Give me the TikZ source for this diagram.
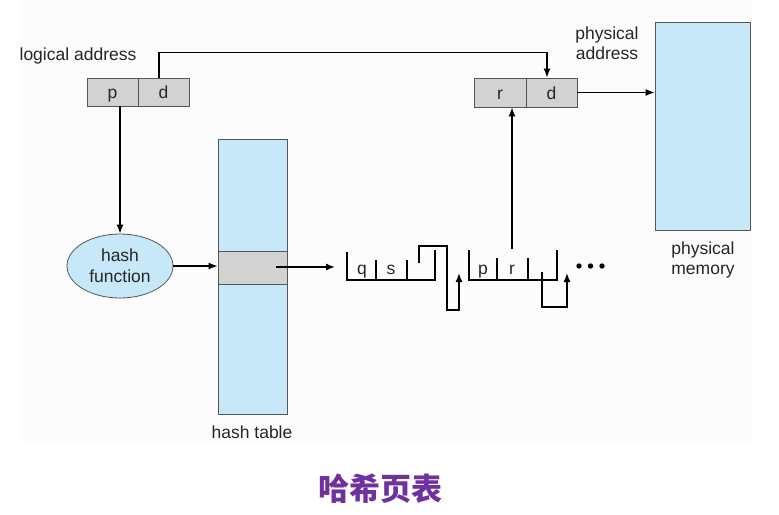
\documentclass[tikz,border=0pt]{standalone}
\usepackage{fontspec}
\setmainfont{Liberation Sans}
\newfontfamily\cjk{Noto Sans CJK SC}
\usetikzlibrary{arrows.meta,shapes.geometric}
\definecolor{lblue}{RGB}{198,232,248}
\definecolor{cellgray}{RGB}{210,210,210}
\definecolor{edgec}{RGB}{85,85,85}
\definecolor{titlepurple}{RGB}{112,48,160}
\definecolor{panelc}{RGB}{252,252,252}
\begin{document}
\begin{tikzpicture}[x=1pt,y=-1pt,
  lbl/.style={font=\fontsize{17.5}{20}\selectfont, align=center, inner sep=0pt, text=black!85},
  cellbox/.style={draw=edgec, fill=cellgray, line width=0.8pt, minimum width=51pt, minimum height=28pt, inner sep=0pt, text height=13pt, text depth=0pt, text=black!85, font=\fontsize{17.5}{20}\selectfont},
  bluebox/.style={draw=edgec, fill=lblue, line width=0.8pt, inner sep=0pt},
  conn/.style={line width=1.4pt, -{Latex[length=9pt,width=7pt]}},
  wire/.style={line width=1.4pt},
  celltext/.style={font=\fontsize{17.5}{20}\selectfont, inner sep=0pt, anchor=base, text=black!85}]
\fill[white] (0,0) rectangle (779,514);
\fill[panelc] (20,0) rectangle (752,442);
\useasboundingbox (0,0) rectangle (779,514);

% logical address
\node[lbl] (la) at (78,56) {logical address};
\node[cellbox] (lp) at (112.5,92) {p};
\node[cellbox] (ld) at (163.5,92) {d};

% physical address
\node[lbl] (pa) at (607,43) {physical\\address};
\node[cellbox, minimum width=52pt, minimum height=29pt] (pr) at (500,92.5) {r};
\node[cellbox, minimum height=29pt] (pd) at (551.5,92.5) {d};

% physical memory
\node[bluebox, minimum width=95pt, minimum height=208pt] (mem) at (702.5,126) {};
\node[lbl] (pm) at (703,260) {physical\\memory};

% hash function
\node[bluebox, ellipse, minimum width=106pt, minimum height=64pt, lbl, font=\fontsize{17.5}{21}\selectfont] (hf) at (120,266) {hash\\function};

% hash table
\node[bluebox, minimum width=69pt, minimum height=275pt] (ht) at (252.5,276.5) {};
\node[cellbox, minimum width=69pt, minimum height=33pt] (band) at (252.5,267.5) {};
\node[lbl] (htl) at (252,432) {hash table};

% connectors
\draw[conn] ([xshift=-4.5pt]ld.north) -- ++(0,-25) -| ([xshift=-4.5pt]pd.north);
\draw[conn] (pd.east) -- (pd.east -| mem.west);
\draw[conn] (lp.south -| hf.north) -- (hf.north);
\draw[conn] (hf.east) -- (hf.east -| band.west);
\coordinate (bandout) at (276,267);
\coordinate (listin) at (335,267);
\draw[conn] (bandout) -- (listin);

% first list entry
\draw[wire] (347,252) -- (347,280) -- (435,280) -- (435,250);
\draw[wire] (376,260) -- (376,280);
\draw[wire] (407,260) -- (407,280);
\node[celltext] (q) at (362,274) {q};
\node[celltext] (s) at (391,274) {s};
\coordinate (n1) at (419,263);
\coordinate (n1t) at (459,273);
\draw[conn] (n1) -- (419,246) -- (447,246) -- (447,310) -- (459,310) -- (n1t);

% second list entry
\draw[wire] (469,250) -- (469,280) -- (557,280) -- (557,250);
\draw[wire] (497,258) -- (497,280);
\draw[wire] (528,258) -- (528,280);
\node[celltext] (p2) at (483,274) {p};
\node[celltext] (r2) at (512,274) {r};
\coordinate (n2) at (542,272);
\coordinate (n2t) at (567,273);
\draw[conn] (n2) -- (542,307) -- (567,307) -- (n2t);
\coordinate (rr) at (512,249);
\draw[conn] (rr) -- (rr |- pr.south);

% dots
\fill (579,266) circle (2.7);
\fill (590.5,266) circle (2.7);
\fill (602,266) circle (2.7);

% title
\node[text=titlepurple, font=\cjk\bfseries\fontsize{31}{34}\selectfont, inner sep=0pt] (title) at (380,489) {哈希页表};
\end{tikzpicture}
\end{document}
